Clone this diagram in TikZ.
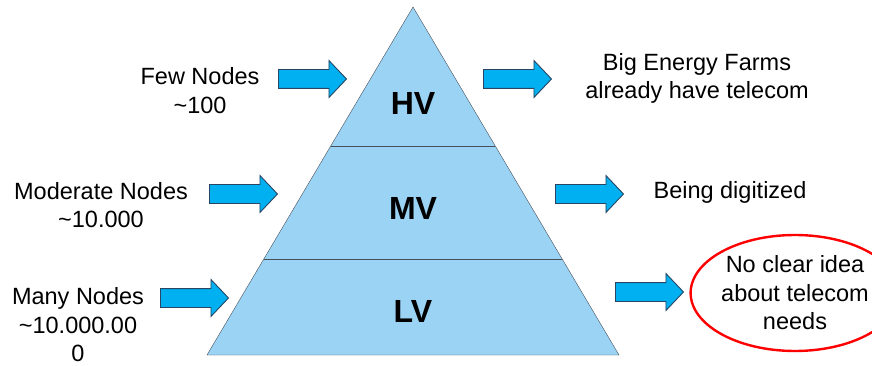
\documentclass[tikz,border=0pt]{standalone}
\usepackage{fontspec}
\setmainfont{Liberation Sans}
\usetikzlibrary{shapes,calc}
\definecolor{pyrfill}{RGB}{155,211,245}
\definecolor{arrfill}{RGB}{0,176,240}
\definecolor{arrline}{RGB}{40,70,100}
\definecolor{pyrline}{RGB}{70,80,90}

\begin{document}
\begin{tikzpicture}[x=1pt,y=-1pt]
\tikzstyle{every node}=[inner sep=0pt];
\tikzstyle{blockarrow}=[draw=arrline,fill=arrfill,line width=0.9pt,single arrow,single arrow head extend=9pt,single arrow tip angle=93,minimum height=68pt,inner xsep=0pt,inner ysep=9pt];
\tikzstyle{txt}=[align=center,font=\fontsize{23.5}{28.5}\selectfont];
\tikzstyle{lvl}=[anchor=base,font=\fontsize{32}{38}\selectfont\bfseries];
\useasboundingbox (0,0) rectangle (872,366);
% pyramid
\coordinate (apex) at (413,7);
\coordinate (bl) at (207,355);
\coordinate (br) at (619,355);
\draw[fill=pyrfill,draw=pyrline] (apex) -- (br) -- (bl) -- cycle;
\draw[pyrline] ($(apex)!0.4!(bl)$) -- ($(apex)!0.4!(br)$);
\draw[pyrline] ($(apex)!0.724!(bl)$) -- ($(apex)!0.724!(br)$);
\node[lvl] (hv) at (413,115) {HV};
\node[lvl] (mv) at (413,219) {MV};
\node[lvl] (lv) at (413,322) {LV};
% arrows
\node[blockarrow] (a1) at (308,79) {};
\node[blockarrow] (a2) at (513,79) {};
\node[blockarrow] (a3) at (239,194) {};
\node[blockarrow] (a4) at (585,194) {};
\node[blockarrow] (a5) at (190,298) {};
\node[blockarrow] (a6) at (645,292) {};
% texts
\node[txt] (few) at (200,90.6) {Few Nodes\\\textasciitilde100};
\node[txt] (farms) at (697,78.6) {Big Energy Farms\\already have telecom};
\node[txt] (moderate) at (101,205) {Moderate Nodes\\\textasciitilde10.000};
\node[txt] (digit) at (730,192) {Being digitized};
\node[txt] (many) at (78,325) {Many Nodes\\\textasciitilde10.000.00\\0};
\node[txt,draw=red,line width=2.4pt,ellipse,minimum width=204pt,minimum height=116pt] (needs) at (795,293) {No clear idea\\about telecom\\needs};
\end{tikzpicture}
\end{document}
